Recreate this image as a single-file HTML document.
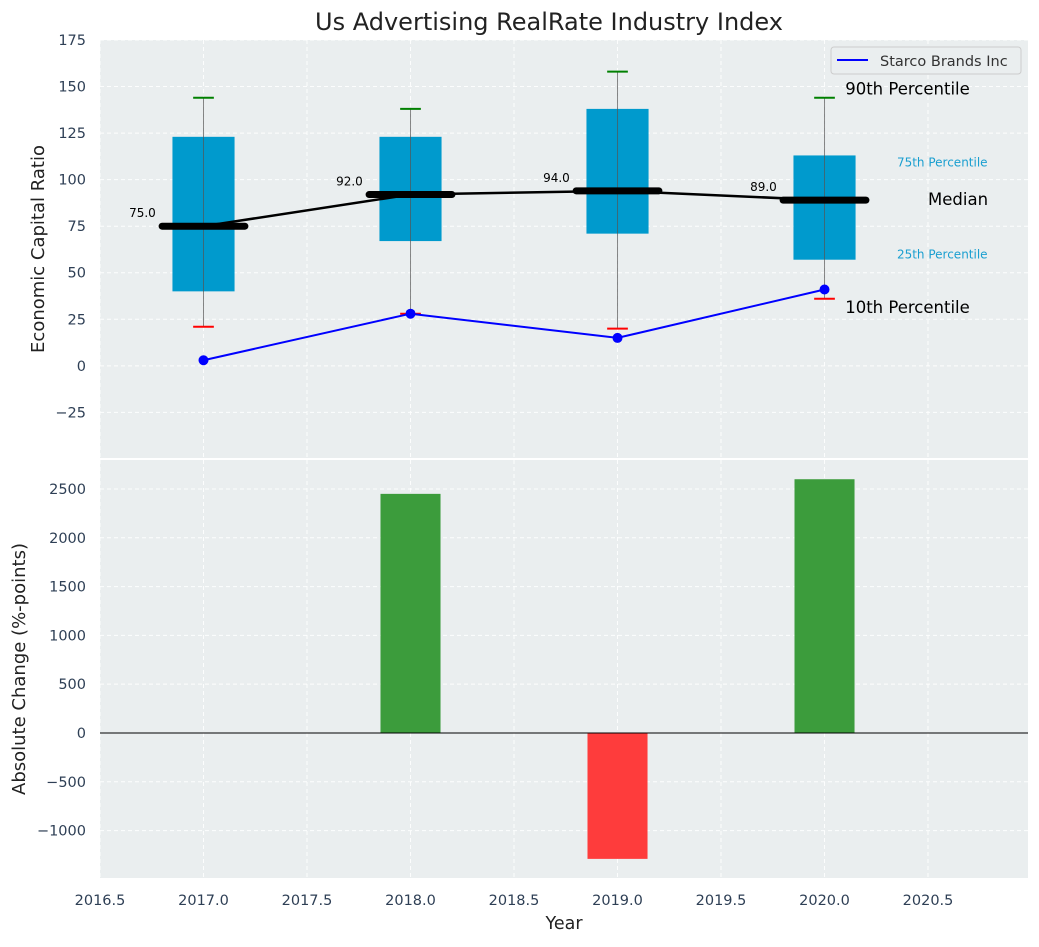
<!DOCTYPE html>
<html><head><meta charset="utf-8"><style>
body{margin:0;background:#fff;font-family:"Liberation Sans","DejaVu Sans",sans-serif}
svg text{font-family:"DejaVu Sans","Liberation Sans",sans-serif}
</style></head><body>
<svg id="c" width="1039" height="942" xmlns="http://www.w3.org/2000/svg"></svg>
<script>
const years=[2017,2018,2019,2020];
const q1=[40,67,71,57];
const q3=[123,123,138,113];
const med=[75,92,94,89];
const p10=[21,28,20,36];
const p90=[144,138,158,144];
const company=[3,28,15,41];
const change=[0,2450,-1290,2600];
const xTicks=[2016.5,2017,2017.5,2018,2018.5,2019,2019.5,2020,2020.5];
const yTopTicks=[-25,0,25,50,75,100,125,150,175];
const yBotTicks=[-1000,-500,0,500,1000,1500,2000,2500];

const svg=document.getElementById('c');const NS='http://www.w3.org/2000/svg';
function el(t,a,p){const e=document.createElementNS(NS,t);for(const k in a)e.setAttribute(k,a[k]);(p||svg).appendChild(e);return e;}
function tx(x,y,s,a,p){const e=el('text',Object.assign({x:x,y:y},a),p);e.textContent=s;return e;}
const L=100,R=1028,T1=40,B1=458,T2=460,B2=878;
const X=v=>L+(v-2016.5)/(2020.983-2016.5)*(R-L);
const Y1=v=>B1-(v+49.5)/(175+49.5)*(B1-T1);
const Y2=v=>B2-(v+1486)/(2797+1486)*(B2-T2);

const p1=el('rect',{x:L,y:T1,width:R-L,height:B1-T1,fill:'#eaeeef'});

const p2=el('rect',{x:L,y:T2,width:R-L,height:B2-T2,fill:'#eaeeef'});

xTicks.forEach(v=>{
 el('line',{x1:X(v),x2:X(v),y1:T1,y2:B1,stroke:'#fff','stroke-dasharray':'4,3','stroke-width':1,opacity:.9});
 el('line',{x1:X(v),x2:X(v),y1:T2,y2:B2,stroke:'#fff','stroke-dasharray':'4,3','stroke-width':1,opacity:.9});
 const t=tx(X(v),905,v.toFixed(1),{'font-size':14.5,fill:'#2e3f55','text-anchor':'middle'});
 
});
yTopTicks.forEach(v=>{
 el('line',{x1:L,x2:R,y1:Y1(v),y2:Y1(v),stroke:'#fff','stroke-dasharray':'4,3',opacity:.9});
 const t=tx(86,Y1(v)+5,v<0?'\u2212'+(-v):String(v),{'font-size':14.5,fill:'#2e3f55','text-anchor':'end'});
 
});
yBotTicks.forEach(v=>{
 el('line',{x1:L,x2:R,y1:Y2(v),y2:Y2(v),stroke:'#fff','stroke-dasharray':'4,3',opacity:.9});
 const t=tx(86,Y2(v)+5,v<0?'\u2212'+(-v):String(v),{'font-size':14.5,fill:'#2e3f55','text-anchor':'end'});
 
});
const bw=0.3;
years.forEach((yr,i)=>{
 const b=el('rect',{x:X(yr-bw/2),y:Y1(q3[i]),width:X(yr+bw/2)-X(yr-bw/2),height:Y1(q1[i])-Y1(q3[i]),fill:'#009acd'});
 
 el('line',{x1:X(yr),x2:X(yr),y1:Y1(p90[i]),y2:Y1(p10[i]),stroke:'#555','stroke-width':1,opacity:.7});
 el('line',{x1:X(yr-0.05),x2:X(yr+0.05),y1:Y1(p90[i]),y2:Y1(p90[i]),stroke:'green','stroke-width':2});
 el('line',{x1:X(yr-0.05),x2:X(yr+0.05),y1:Y1(p10[i]),y2:Y1(p10[i]),stroke:'red','stroke-width':2});
});
const mp=years.map((yr,i)=>X(yr)+','+Y1(med[i])).join(' ');
const ml=el('polyline',{points:mp,fill:'none',stroke:'#000','stroke-width':2.5});

years.forEach((yr,i)=>{
 const m=el('line',{x1:X(yr-0.2),x2:X(yr+0.2),y1:Y1(med[i]),y2:Y1(med[i]),stroke:'#000','stroke-width':7,'stroke-linecap':'round'});
 
 const t=tx(X(yr-0.295),Y1(med[i])-9,med[i].toFixed(1),{'font-size':12,fill:'#000','text-anchor':'middle'});
 
});
const cp=years.map((yr,i)=>X(yr)+','+Y1(company[i])).join(' ');
const cl=el('polyline',{points:cp,fill:'none',stroke:'blue','stroke-width':2});

years.forEach((yr,i)=>{
 const c=el('circle',{cx:X(yr),cy:Y1(company[i]),r:5,fill:'blue'});
 
});
const ax=X(2020.1);
[[ '90th Percentile',Y1(p90[3])-3,16.5,'#000',ax],['75th Percentile',Y1(q3[3])+11,12,'#1a9fd0',X(2020.35)],['Median',Y1(med[3])+5,16.5,'#000',X(2020.5)],['25th Percentile',Y1(q1[3])-1,12,'#1a9fd0',X(2020.35)],['10th Percentile',Y1(p10[3])+14,16.5,'#000',ax]].forEach(a=>{
 const t=tx(a[4],a[1],a[0],{'font-size':a[2],fill:a[3]});
 
});
const lg=el('g',{});
el('rect',{x:831,y:47,width:190,height:27,rx:3,fill:'#eaeeef',stroke:'#ccc'},lg);
el('line',{x1:837,x2:868,y1:60,y2:60,stroke:'blue','stroke-width':2},lg);
tx(880,66,'Starco Brands Inc',{'font-size':14.5,fill:'#333'},lg);
years.forEach((yr,i)=>{
 if(change[i]===0)return;
 const y0=Y2(0),y1=Y2(change[i]);
 const b=el('rect',{x:X(yr-0.145),y:Math.min(y0,y1),width:X(yr+0.145)-X(yr-0.145),height:Math.abs(y1-y0),fill:change[i]>0?'#3c9c3c':'#fe3c3c'});
 
});
el('line',{x1:L,x2:R,y1:Y2(0),y2:Y2(0),stroke:'#000','stroke-width':1});
let t=tx(549,30,'Us Advertising RealRate Industry Index',{'font-size':24,fill:'#222','text-anchor':'middle'});

t=tx(564,929,'Year',{'font-size':17.5,fill:'#222','text-anchor':'middle'});

t=tx(44,249,'Economic Capital Ratio',{'font-size':18,fill:'#222','text-anchor':'middle',transform:'rotate(-90 44 249)'});

t=tx(25,669,'Absolute Change (%-points)',{'font-size':18,fill:'#222','text-anchor':'middle',transform:'rotate(-90 25 669)'});

</script>
</body></html>
